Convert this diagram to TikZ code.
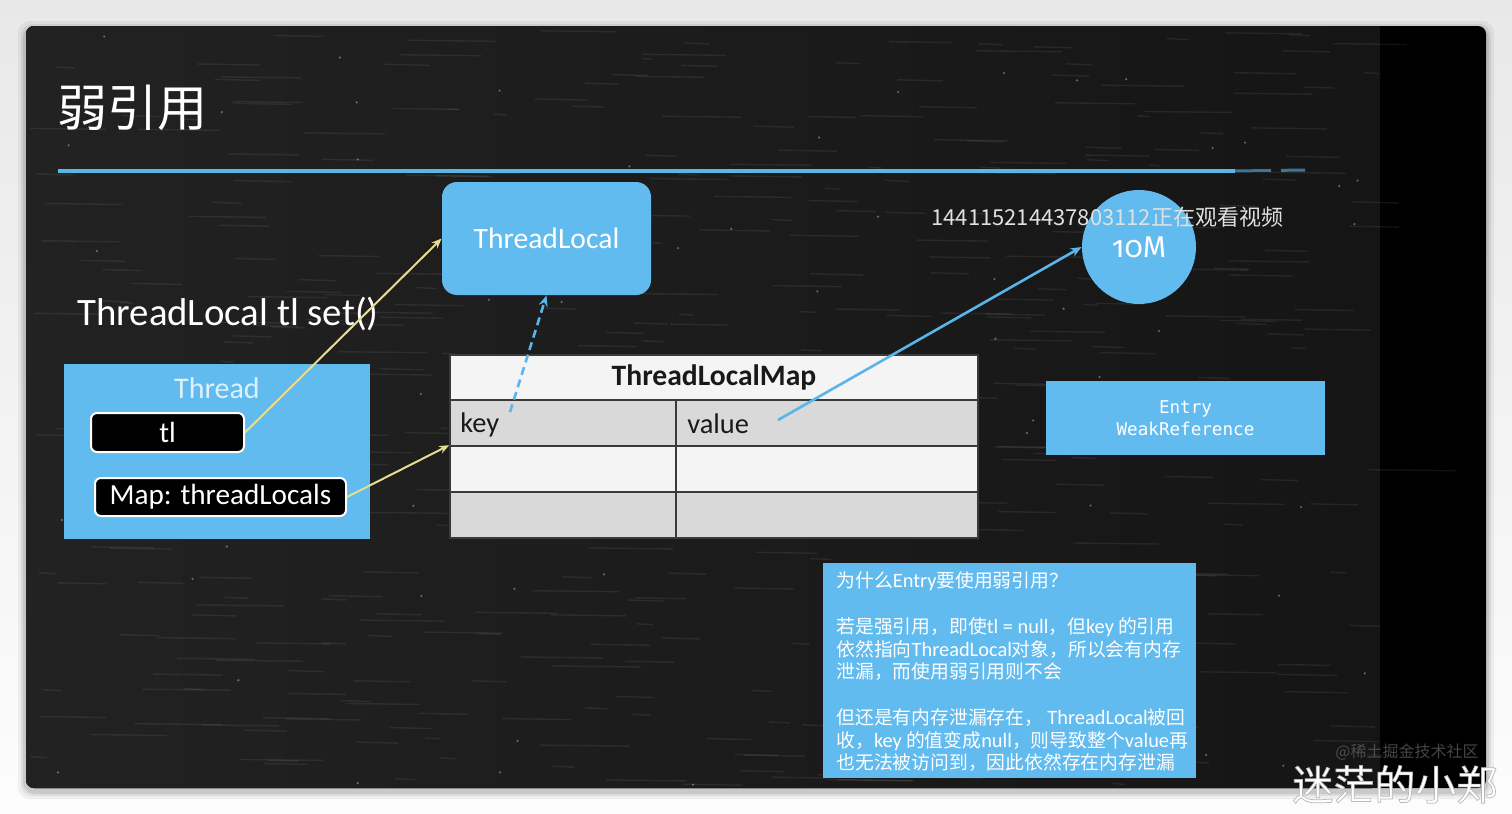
\documentclass[tikz,border=0pt]{standalone}
\usepackage{fontspec}
\setmainfont{Carlito}
\newfontfamily\cjk{Noto Sans CJK SC}
\newfontfamily\monof{DejaVu Sans Mono}
\newfontfamily\osf{Fira Sans}[Numbers=OldStyle]
\newcommand\latn[1]{{\normalfont\fontsize{10.2}{11}\selectfont #1}}
\usetikzlibrary{arrows.meta,shapes.geometric}
\definecolor{boxblue}{HTML}{62BBEE}
\definecolor{lineblue}{HTML}{5AB5E8}
\definecolor{yel}{HTML}{E6DD8E}
\definecolor{gridc}{HTML}{3A3A3A}
\definecolor{cellgray}{HTML}{D9D9D9}
\definecolor{cellwhite}{HTML}{F4F4F4}
\definecolor{boardl}{HTML}{222222}
\definecolor{boardr}{HTML}{151515}
\definecolor{lighttxt}{HTML}{DDF1FB}
\begin{document}
\begin{tikzpicture}[x=0.5pt,y=-0.5pt,
  bluebox/.style={fill=boxblue,draw=none,inner sep=0pt,text=white},
  blackbox/.style={fill=black,draw=white,line width=1pt,rounded corners=3pt,inner sep=0pt,text=white,font=\fontsize{14.6}{17}\selectfont},
  yarrow/.style={draw=yel,line width=1pt,-{Stealth[length=5pt,width=4pt]}},
  barrow/.style={draw=lineblue,line width=1.3pt,-{Stealth[length=5.5pt,width=4.5pt]}},
  cell/.style={draw=gridc,line width=0.8pt,inner sep=0pt,minimum height=23pt},
  celltxt/.style={anchor=base west,inner sep=0pt,text=black!90,font=\fontsize{14.2}{17}\selectfont},
  infotxt/.style={anchor=base west,inner sep=0pt,text=white,font=\cjk\fontsize{9.4}{11}\selectfont},
]
\useasboundingbox (0,0) rectangle (1512,814);
% outer background
\shade[top color=black!9,bottom color=black!1] (0,0) rectangle (1512,814);
% frame shadow
\foreach \s/\o in {8/0.05,5/0.07,3/0.09}{
  \fill[black,opacity=\o,rounded corners=6pt] (26-\s,26-\s+3) rectangle (1486+\s,788+\s+3);
}
% board
\fill[black,rounded corners=4pt] (26,26) rectangle (1486,788);
\fill[left color=boardl,right color=boardr,rounded corners=4pt] (26,26) rectangle (1380,788);
\fill[boardr] (1360,26) rectangle (1380,788);
% chalk texture
\pgfmathsetseed{7}
\foreach \i in {1,...,420}{
  \pgfmathsetmacro\px{30+1340*rnd}
  \pgfmathsetmacro\py{30+755*rnd}
  \pgfmathsetmacro\pl{10+80*rnd}
  \draw[white,opacity=0.07,line width=0.7pt] (\px,\py) -- ++(\pl,1);
}
\foreach \i in {1,...,70}{
  \pgfmathsetmacro\px{30+1340*rnd}
  \pgfmathsetmacro\py{30+755*rnd}
  \fill[white,opacity=0.35] (\px,\py) circle (0.6pt);
}
% title and rule
\node[anchor=base west,inner sep=0pt,text=white,font=\cjk\fontsize{25}{30}\selectfont] (title) at (57,126) {弱引用};
\draw[lineblue,line width=2pt] (58,171) -- (1235,171);
\draw[lineblue,line width=1.5pt,opacity=0.6,dash pattern=on 18pt off 5pt] (1235,171) -- (1305,170);
% ThreadLocal
\node[bluebox,rounded corners=7.5pt,minimum width=104.5pt,minimum height=56.5pt,font=\fontsize{14.8}{17}\selectfont] (tlo) at (546.5,238.5) {\raisebox{-1pt}{ThreadLocal}};
\node[anchor=base west,inner sep=0pt,text=white,font=\fontsize{19.4}{23}\selectfont] (call) at (77,325) {ThreadLocal tl set()};
% Thread
\node[bluebox,minimum width=153pt,minimum height=87.5pt] (thread) at (217,451.5) {};
\node[anchor=base,inner sep=0pt,text=lighttxt,font=\fontsize{15}{18}\selectfont] (threadlbl) at (217,398) {Thread};
\node[blackbox,minimum width=76.5pt,minimum height=19.5pt] (tl) at (167.5,432.5) {tl};
\node[blackbox,minimum width=125.5pt,minimum height=19pt] (map) at (220.5,497) {Map: threadLocals};
% ThreadLocalMap table
\node[cell,fill=cellwhite,minimum width=264pt,minimum height=22.5pt,font=\bfseries\fontsize{14.8}{17}\selectfont,text=black!90] (hdr) at (714,377.5) {ThreadLocalMap};
\node[cell,fill=cellgray,minimum width=113pt] (k1) at (563,423) {};
\node[cell,fill=cellgray,minimum width=151pt] (v1) at (827,423) {};
\node[cell,fill=cellwhite,minimum width=113pt] (k2) at (563,469) {};
\node[cell,fill=cellwhite,minimum width=151pt] (v2) at (827,469) {};
\node[cell,fill=cellgray,minimum width=113pt] (k3) at (563,515) {};
\node[cell,fill=cellgray,minimum width=151pt] (v3) at (827,515) {};
\node[celltxt] (keytxt) at (460,432) {key};
\node[celltxt] (valtxt) at (687,433) {value};
% 10M circle
\node[circle,fill=boxblue,minimum size=57pt,inner sep=0pt,text=white,font=\osf\fontsize{15}{18}\selectfont] (ten) at (1139,247) {\raisebox{-1pt}{10M}};
\node[anchor=base west,inner sep=0pt,text=black!12,font=\cjk\fontsize{11}{13}\selectfont] (viewer) at (931,225) {144115214437803112正在观看视频};
% Entry
\node[bluebox,minimum width=139.5pt,minimum height=37pt,align=center,font=\monof\fontsize{8.8}{11}\selectfont] (entry) at (1185.5,418) {Entry\\WeakReference};
% info box
\node[bluebox,minimum width=186.5pt,minimum height=107.5pt] (info) at (1009.5,670.5) {};
\node[infotxt] (q1) at (836,587) {为什么\latn{Entry}要使用弱引用？};
\node[infotxt] (q2) at (836,633) {若是强引用，即使\latn{tl = null}，但\latn{key} 的引用};
\node[infotxt] (q3) at (836,656) {依然指向\latn{ThreadLocal}对象，所以会有内存};
\node[infotxt] (q4) at (836,678) {泄漏，而使用弱引用则不会};
\node[infotxt] (q5) at (836,724) {但还是有内存泄漏存在， \latn{ThreadLocal}被回};
\node[infotxt] (q6) at (836,747) {收，\latn{key} 的值变成\latn{null}，则导致整个\latn{value}再};
\node[infotxt] (q7) at (836,769) {也无法被访问到，因此依然存在内存泄漏};
% connectors
\draw[yarrow] (tl.east) -- (tlo.west);
\draw[yarrow] (map.east) -- (k2.north west);
\coordinate (kref) at (510,412);
\draw[barrow,dash pattern=on 4pt off 2.5pt] (kref) -- (tlo.south);
\coordinate (vref) at (778,420);
\draw[barrow] (vref) -- (ten.west);
% watermark
\node[anchor=base west,inner sep=0pt,text=black!55,opacity=0.6,font=\cjk\fontsize{8}{10}\selectfont] (wm2) at (1335,757) {@稀土掘金技术社区};
\node[anchor=base west,inner sep=0pt,text=white,font=\cjk\fontsize{20.5}{24}\selectfont] (wm1) at (1292,800) {\special{pdf:literal direct 2 Tr 0.35 w 0.72 0.72 0.72 RG}迷茫的小郑\special{pdf:literal direct 0 Tr}};
\end{tikzpicture}
\end{document}
